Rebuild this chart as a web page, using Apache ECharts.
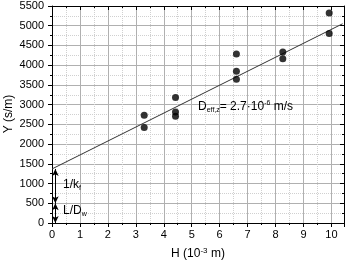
<!DOCTYPE html>
<html><head><meta charset="utf-8">
<script src="https://cdn.jsdelivr.net/npm/echarts@6/dist/echarts.min.js"></script>
<style>html,body{margin:0;padding:0;background:#fff}#c{width:349px;height:260px}</style>
</head><body><div id="c"></div>
<script>
const hValues = [3.3, 3.3, 4.42, 4.42, 4.42, 6.6, 6.6, 6.6, 8.26, 8.26, 9.92, 9.92];
const yValues = [2730, 2420, 3180, 2815, 2705, 4285, 3845, 3645, 4335, 4160, 5320, 4800];
const fitX = [0, 10.4];
const fitY = [1370, 5050];
const intercept = 1370;
const filmSplit = 500;
const arrowX = 0.12;

const font = 'Liberation Sans, Arial, sans-serif';
const chart = echarts.init(document.getElementById('c'));
const pts = hValues.map((h, i) => [h, yValues[i]]);
const fit = fitX.map((x, i) => [x, fitY[i]]);

const baseX = {min: 0, max: 10.45, interval: 1, type: 'value'};
const baseY = {min: 0, max: 5500, interval: 500, type: 'value'};
const frameLine = {show: true, onZero: false, lineStyle: {color: '#000', width: 1}};

chart.setOption({
  animation: false,
  textStyle: {fontFamily: font},
  grid: {left: 52, right: 5, top: 6, bottom: 37, containLabel: false, outerBoundsMode: 'none'},
  xAxis: [
    Object.assign({}, baseX, {
      position: 'bottom',
      axisLine: frameLine,
      axisTick: {show: true, inside: false, length: 4, lineStyle: {color: '#000'}},
      minorTick: {show: true, splitNumber: 2, length: 2, lineStyle: {color: '#000'}},
      axisLabel: {color: '#000', fontSize: 11, margin: 6,
        formatter: v => (v > 10.01 ? '' : String(v))},
      splitLine: {show: true, lineStyle: {color: '#b0b0b0', width: 1}},
      minorSplitLine: {show: true, lineStyle: {color: '#d0d0d0', type: 'dotted', width: 1}},
      name: '{a|H (10}{s|-3}{a| m)}',
      nameLocation: 'middle', nameGap: 24,
      nameTextStyle: {rich: {
        a: {fontSize: 12, color: '#000', fontFamily: font},
        s: {fontSize: 8, color: '#000', verticalAlign: 'top', padding: [0, 0, 6, 0], fontFamily: font}
      }}
    }),
    Object.assign({}, baseX, {
      position: 'top',
      axisLine: frameLine,
      axisTick: {show: true, inside: true, length: 4, lineStyle: {color: '#000'}},
      minorTick: {show: true, splitNumber: 2, length: 2, lineStyle: {color: '#000'}},
      axisLabel: {show: false},
      splitLine: {show: false}
    })
  ],
  yAxis: [
    Object.assign({}, baseY, {
      position: 'left',
      axisLine: frameLine,
      axisTick: {show: true, inside: false, length: 4, lineStyle: {color: '#000'}},
      minorTick: {show: true, splitNumber: 2, length: 2, lineStyle: {color: '#000'}},
      axisLabel: {color: '#000', fontSize: 11, margin: 8, formatter: v => String(v)},
      splitLine: {show: true, lineStyle: {color: '#b0b0b0', width: 1}},
      minorSplitLine: {show: true, lineStyle: {color: '#d0d0d0', type: 'dotted', width: 1}}
    }),
    Object.assign({}, baseY, {
      position: 'right',
      axisLine: frameLine,
      axisTick: {show: true, inside: true, length: 4, lineStyle: {color: '#000'}},
      minorTick: {show: true, splitNumber: 2, length: 2, lineStyle: {color: '#000'}},
      axisLabel: {show: false},
      splitLine: {show: false}
    })
  ],
  series: [
    {
      type: 'line', data: fit, showSymbol: false, symbol: 'none',
      lineStyle: {color: '#333', width: 1}, z: 3,
      markLine: {
        silent: true, symbol: ['arrow', 'arrow'], symbolSize: [5, 7],
        label: {show: false},
        lineStyle: {color: '#000', width: 1, type: 'solid'},
        data: [
          [{coord: [arrowX, filmSplit]}, {coord: [arrowX, intercept]}],
          [{coord: [arrowX, 0]}, {coord: [arrowX, filmSplit]}]
        ]
      }
    },
    {
      type: 'scatter', data: pts, symbol: 'circle', symbolSize: 7,
      itemStyle: {color: '#000'}, z: 4
    }
  ],
  graphic: [
    {type: 'text', x: 9, y: 114, rotation: Math.PI / 2, z: 100, style: {
      text: 'Y (s/m)', fontSize: 12, fill: '#000', fontFamily: font,
      align: 'center', verticalAlign: 'middle'
    }},
    {type: 'text', left: 63, top: 179, z: 100, style: {
      text: '{a|1/k}{s|f}', rich: {
        a: {fontSize: 12, fill: '#000', fontFamily: font},
        s: {fontSize: 7, fill: '#000', fontFamily: font, padding: [6, 0, 0, 0]}
      }}},
    {type: 'text', left: 63, top: 205, z: 100, style: {
      text: '{a|L/D}{s|w}', rich: {
        a: {fontSize: 12, fill: '#000', fontFamily: font},
        s: {fontSize: 7, fill: '#000', fontFamily: font, padding: [6, 0, 0, 0]}
      }}},
    {type: 'text', left: 198, top: 100, z: 100, style: {
      text: '{a|D}{s|eff,z}{a|= 2.7·10}{p|-6}{a| m/s}', rich: {
        a: {fontSize: 12, fill: '#000', fontFamily: font},
        s: {fontSize: 7, fill: '#000', fontFamily: font, padding: [6, 0, 0, 0]},
        p: {fontSize: 7, fill: '#000', fontFamily: font, padding: [0, 0, 7, 0]}
      }}}
  ]
});
</script></body></html>
